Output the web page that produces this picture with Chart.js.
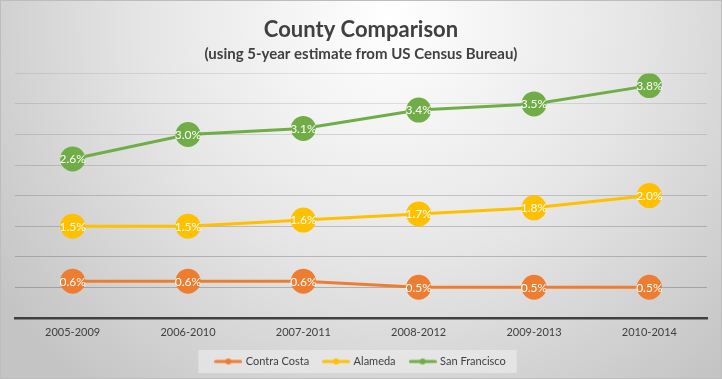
<!DOCTYPE html>
<html>
<head>
<meta charset="utf-8">
<script src="https://cdn.jsdelivr.net/npm/chart.js@4"></script>
<style>
html,body{margin:0;padding:0;background:#fff;}
#wrap{width:722px;height:379px;position:relative;}
canvas{display:block;}
</style>
</head>
<body>
<div id="wrap"><canvas id="c" width="722" height="379"></canvas></div>
<script>
const categories = ['2005-2009','2006-2010','2007-2011','2008-2012','2009-2013','2010-2014'];
const contraCosta = [0.6, 0.6, 0.6, 0.5, 0.5, 0.5];
const alameda = [1.5, 1.5, 1.6, 1.7, 1.8, 2.0];
const sanFrancisco = [2.6, 3.0, 3.1, 3.4, 3.5, 3.8];
const seriesNames = ['Contra Costa', 'Alameda', 'San Francisco'];
const seriesColors = ['#ED7D31', '#FFC000', '#70AD47'];
const titleText = 'County Comparison';
const subtitleText = '(using 5-year estimate from US Census Bureau)';

const FONT = 'Lato, "Open Sans", sans-serif';

function legendIcon(color) {
  const c = document.createElement('canvas');
  c.width = 28; c.height = 8;
  const x = c.getContext('2d');
  x.strokeStyle = color; x.lineWidth = 3; x.lineCap = 'round';
  x.beginPath(); x.moveTo(1.5, 4); x.lineTo(26.5, 4); x.stroke();
  x.fillStyle = color;
  x.beginPath(); x.arc(14, 4, 3, 0, Math.PI * 2); x.fill();
  return c;
}
const icons = seriesColors.map(legendIcon);

const bgPlugin = {
  id: 'bg',
  beforeDraw(chart) {
    const ctx = chart.ctx, w = chart.width, h = chart.height;
    ctx.save();
    const g = ctx.createRadialGradient(390, 20, 0, 390, 20, 480);
    g.addColorStop(0, '#ffffff');
    g.addColorStop(0.5, '#e6e6e6');
    g.addColorStop(1, '#c4c4c4');
    ctx.fillStyle = g;
    ctx.fillRect(0, 0, w, h);
    ctx.strokeStyle = '#bdbdbd';
    ctx.lineWidth = 1;
    ctx.strokeRect(0.5, 0.5, w - 1, h - 1);
    const lg = chart.legend;
    if (lg && lg.legendHitBoxes && lg.legendHitBoxes.length) {
      const boxes = lg.legendHitBoxes;
      let l = Infinity, r = -Infinity, t = Infinity, b = -Infinity;
      boxes.forEach(bx => {
        l = Math.min(l, bx.left); r = Math.max(r, bx.left + bx.width);
        t = Math.min(t, bx.top); b = Math.max(b, bx.top + bx.height);
      });
      const cy = (t + b) / 2;
      ctx.fillStyle = 'rgba(240,240,240,0.55)';
      ctx.fillRect(l - 18, cy - 11.5, (r - l) + 29, 23);
    }
    ctx.restore();
  }
};

const labelPlugin = {
  id: 'dlabels',
  afterDatasetsDraw(chart) {
    const ctx = chart.ctx;
    ctx.save();
    ctx.font = '12px ' + FONT;
    ctx.fillStyle = '#ffffff';
    ctx.textAlign = 'center';
    ctx.textBaseline = 'middle';
    chart.data.datasets.forEach((ds, i) => {
      const meta = chart.getDatasetMeta(i);
      meta.data.forEach((el, j) => {
        ctx.fillText(ds.data[j].toFixed(1) + '%', el.x, el.y + 0.5);
      });
    });
    ctx.restore();
  }
};

function gridColor(ctx) {
  const v = ctx.tick ? ctx.tick.value : 0;
  const a = 0.40 - (v / 4) * 0.26;
  return 'rgba(90,90,90,' + a.toFixed(3) + ')';
}

const seriesData = [contraCosta, alameda, sanFrancisco];

new Chart(document.getElementById('c'), {
  type: 'line',
  data: {
    labels: categories,
    datasets: seriesData.map((d, i) => ({
      label: seriesNames[i],
      data: d,
      borderColor: seriesColors[i],
      backgroundColor: seriesColors[i],
      pointBackgroundColor: seriesColors[i],
      pointBorderColor: seriesColors[i],
      borderWidth: 3,
      pointRadius: 11,
      pointHoverRadius: 11,
      tension: 0,
      fill: false
    }))
  },
  options: {
    responsive: false,
    animation: false,
    devicePixelRatio: 1,
    layout: { padding: { left: 15, right: 15, top: 0, bottom: 2 } },
    scales: {
      x: {
        type: 'category',
        offset: true,
        grid: { display: false, drawTicks: false },
        border: { display: true, color: '#404040', width: 2.5 },
        ticks: { color: '#404040', font: { family: FONT, size: 11 }, padding: 8, maxRotation: 0 },
        afterFit(scale) { scale.height -= 6; }
      },
      y: {
        min: 0, max: 4,
        ticks: { display: false, stepSize: 0.5 },
        grid: { color: gridColor, lineWidth: 1, drawTicks: false },
        border: { display: false }
      }
    },
    plugins: {
      tooltip: { enabled: false },
      title: {
        display: true, text: titleText, color: '#404040',
        font: { family: FONT, size: 22, weight: 'bold' },
        padding: { top: 17, bottom: 2 }
      },
      subtitle: {
        display: true, text: subtitleText, color: '#404040',
        font: { family: FONT, size: 15, weight: 'bold' },
        padding: { top: 0, bottom: 10 }
      },
      legend: {
        position: 'bottom',
        labels: {
          usePointStyle: true,
          pointStyleWidth: 24,
          boxHeight: 8,
          padding: 15,
          color: '#404040',
          font: { family: FONT, size: 11 },
          generateLabels(chart) {
            const items = Chart.defaults.plugins.legend.labels.generateLabels(chart);
            items.forEach((it) => { it.pointStyle = icons[it.datasetIndex]; });
            return items;
          }
        }
      }
    }
  },
  plugins: [bgPlugin, labelPlugin]
});
</script>
</body>
</html>
